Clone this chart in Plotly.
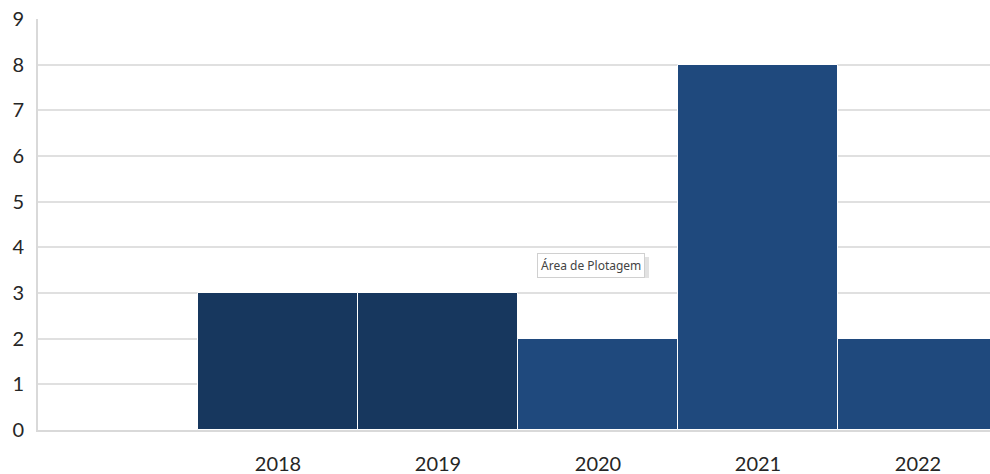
import plotly.graph_objects as go

years = ["2018", "2019", "2020", "2021", "2022"]
values = [3, 3, 2, 8, 2]
colors = ["#17375E", "#17375E", "#1F497D", "#1F497D", "#1F497D"]
positions = [1, 2, 3, 4, 5]
y_ticks = list(range(0, 10))

L, R, T, B = 38, 0, 19, 44
W, H = 990, 474
pw, ph = W - L - R, H - T - B

def px(x):
    return (x - L) / pw

def py(y):
    return (H - B - y) / ph

fig = go.Figure()
fig.add_trace(go.Bar(
    x=positions, y=values, width=1,
    marker=dict(color=colors, line=dict(color="white", width=1)),
    hoverinfo="skip",
))

fig.update_layout(
    width=W, height=H,
    margin=dict(l=L, r=R, t=T, b=B),
    paper_bgcolor="white", plot_bgcolor="white",
    showlegend=False,
    font=dict(family="Lato, Open Sans, sans-serif", size=20, color="#262626"),
    bargap=0,
)
fig.update_xaxes(
    range=[-0.5, 5.45],
    tickvals=positions, ticktext=years,
    showgrid=False, zeroline=False,
    showline=True, linecolor="#D9D9D9", linewidth=2,
    ticks="", ticklabelstandoff=15, automargin=False,
)
fig.update_yaxes(
    range=[0, 9], tickvals=y_ticks,
    showgrid=True, gridcolor="#E0E0E0", gridwidth=2,
    zeroline=False,
    showline=True, linecolor="#D9D9D9", linewidth=2,
    ticks="", ticklabelstandoff=8, automargin=False,
)

# tooltip shadow
fig.add_shape(
    type="rect", xref="paper", yref="paper",
    x0=px(537), x1=px(649), y0=py(278), y1=py(257),
    fillcolor="#E2E2E2", line=dict(width=0), layer="above",
)
fig.add_annotation(
    x=px(591), y=py(265), xref="paper", yref="paper",
    text="Área de Plotagem", showarrow=False,
    font=dict(family="Noto Sans, sans-serif", size=12, color="#444444"),
    bgcolor="white", bordercolor="#D0D0D0", borderwidth=1, borderpad=3,
)

fig.write_html("out.html")
